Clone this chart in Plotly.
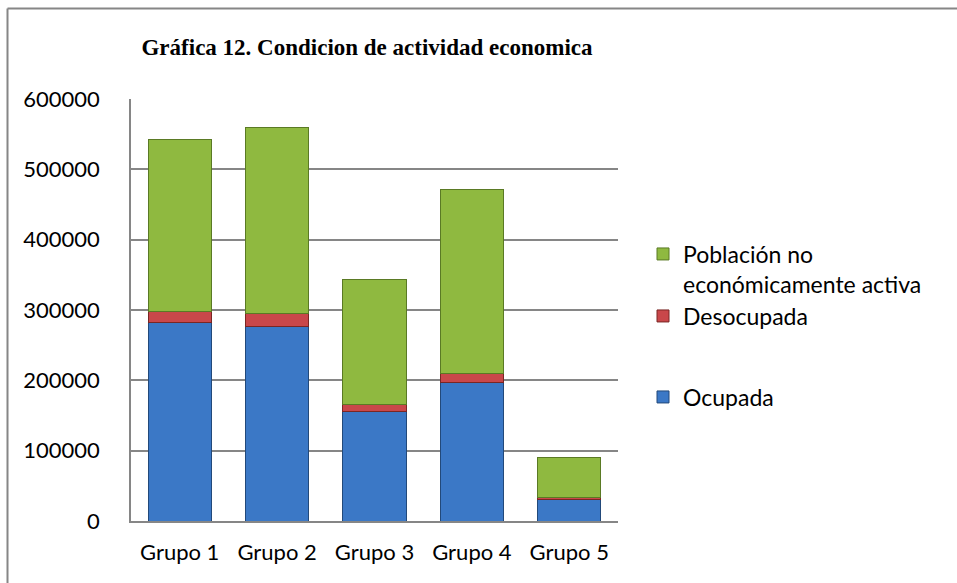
import plotly.graph_objects as go

categories = ["Grupo 1", "Grupo 2", "Grupo 3", "Grupo 4", "Grupo 5"]
ocupada = [282000, 277000, 155000, 197000, 30000]
desocupada = [16000, 18000, 10000, 13000, 3000]
no_activa = [245000, 264000, 179000, 261000, 58000]

y_ticks = [0, 100000, 200000, 300000, 400000, 500000, 600000]

W, H = 957, 583
L, R, T, B = 131, 618, 99, 521

def px_x(px):
    return (px - L) / (R - L)

def px_y(py):
    return (B - py) / (B - T)

fig = go.Figure()
fig.add_trace(go.Bar(
    x=categories, y=ocupada, name="Ocupada",
    marker=dict(color="#3B78C6", line=dict(color="#22497a", width=1)),
    legend="legend3",
))
fig.add_trace(go.Bar(
    x=categories, y=desocupada, name="Desocupada",
    marker=dict(color="#C9474A", line=dict(color="#7a2624", width=1)),
    legend="legend2",
))
fig.add_trace(go.Bar(
    x=categories, y=no_activa, name="Población no<br>económicamente activa",
    marker=dict(color="#8FB940", line=dict(color="#5a7a24", width=1)),
    legend="legend",
))

font_family = "Lato, 'Open Sans', sans-serif"
leg_common = dict(
    xanchor="left", yanchor="middle",
    font=dict(family=font_family, size=23, color="#000000"),
    bgcolor="rgba(0,0,0,0)", borderwidth=0, valign="top",
)

fig.update_layout(
    width=W, height=H,
    margin=dict(l=L, r=W - R, t=T, b=H - B),
    barmode="stack",
    bargap=0.35,
    showlegend=True,
    paper_bgcolor="white",
    plot_bgcolor="white",
    title=dict(
        text="<b>Gráfica 12. Condicion de actividad economica</b>",
        font=dict(family="'Liberation Serif', 'Times New Roman', serif", size=23, color="#000000"),
        xref="paper", x=px_x(367), xanchor="center",
        yref="container", y=1 - 47 / H, yanchor="middle",
    ),
    xaxis=dict(
        showgrid=False, showline=True, linecolor="#868686", linewidth=1.5,
        ticks="", tickfont=dict(family=font_family, size=22, color="#000000"),
        ticklabelstandoff=11,
    ),
    yaxis=dict(
        range=[0, 600000], tickvals=y_ticks, ticktext=[str(v) for v in y_ticks],
        showgrid=True, gridcolor="#868686", gridwidth=1.5,
        showline=True, linecolor="#868686", linewidth=1.5,
        ticks="", tickfont=dict(family=font_family, size=22, color="#000000"),
        ticklabelstandoff=25, zeroline=False,
    ),
    legend=dict(x=px_x(643), y=px_y(269), **leg_common),
    legend2=dict(x=px_x(643), y=px_y(316), **leg_common),
    legend3=dict(x=px_x(643), y=px_y(397), **leg_common),
    shapes=[
        dict(type="line", xref="paper", yref="paper",
             x0=px_x(7.5), x1=px_x(7.5), y0=px_y(8.5), y1=px_y(600),
             line=dict(color="#868686", width=2)),
        dict(type="line", xref="paper", yref="paper",
             x0=px_x(7.5), x1=px_x(970), y0=px_y(8.5), y1=px_y(8.5),
             line=dict(color="#868686", width=2)),
    ],
)

fig.write_html("out.html", config={"displayModeBar": False},
               post_script="document.body.style.margin='0';")
